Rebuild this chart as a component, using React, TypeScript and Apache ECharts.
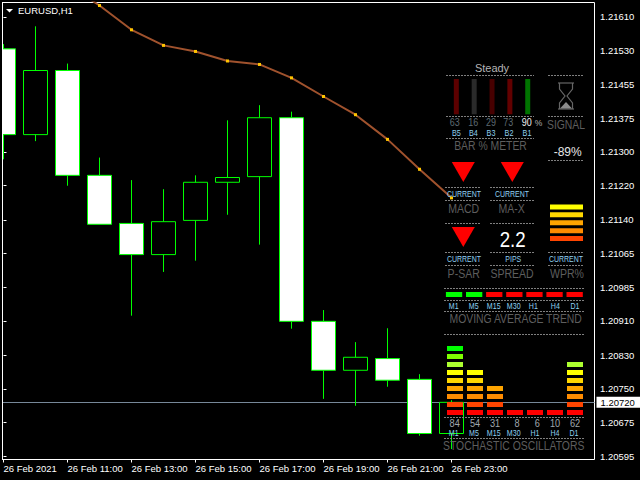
import React, { useEffect, useRef } from "react";
import * as echarts from "echarts";

// [hour index, open, close, low, high]
const candles = [
  [0, 1.21536, 1.21338, 1.21281, 1.21547],
  [1, 1.21338, 1.21486, 1.21323, 1.21588],
  [2, 1.21486, 1.21244, 1.2122, 1.21502],
  [3, 1.21244, 1.21131, 1.21131, 1.21285],
  [4, 1.21133, 1.21061, 1.2092, 1.21233],
  [5, 1.21061, 1.21137, 1.21021, 1.21212],
  [6, 1.2114, 1.21228, 1.21047, 1.21244],
  [7, 1.21228, 1.21239, 1.21153, 1.21371],
  [8, 1.21241, 1.21377, 1.21084, 1.21406],
  [9, 1.21377, 1.20907, 1.2089, 1.21391],
  [10, 1.20907, 1.20794, 1.20728, 1.20933],
  [11, 1.20794, 1.20824, 1.20712, 1.20859],
  [12, 1.20821, 1.20771, 1.20756, 1.20891],
  [13, 1.20773, 1.20648, 1.20643, 1.20785],
  [14, 1.20648, 1.2072, 1.20612, 1.20725],
];
const movingAverage = [
  [2, 1.21685], [3, 1.21636], [4, 1.2158], [5, 1.21544], [6, 1.2153], [7, 1.21508], [8, 1.215],
  [9, 1.21469], [10, 1.21426], [11, 1.21384], [12, 1.21327], [13, 1.21258], [14, 1.21192],
];
const bidPrice = 1.2072;
const priceTicks = [
  1.2161, 1.21532, 1.21454, 1.21376, 1.21298, 1.2122, 1.21141, 1.21063, 1.20985, 1.20908, 1.20829, 1.20751, 1.20673, 1.20595,
];
const timeTicks = [0, 2, 4, 6, 8, 10, 12, 14];
const timeLabels = [
  "26 Feb 2021", "26 Feb 11:00", "26 Feb 13:00", "26 Feb 15:00", "26 Feb 17:00", "26 Feb 19:00", "26 Feb 21:00", "26 Feb 23:00",
];
const meterNames = ["B5", "B4", "B3", "B2", "B1"];
const meterValues = [63, 16, 29, 73, 90];
const meterColors = ["#5c0000", "#2a2a2a", "#470000", "#620000", "#007400"];
const timeframes = ["M1", "M5", "M15", "M30", "H1", "H4", "D1"];
const maTrendColors = ["#00ff00", "#00ff00", "#ff0000", "#ff0000", "#ff0000", "#ff0000", "#ff0000"];
const stochValues = [84, 54, 31, 8, 6, 10, 62];
const stochCells = [9, 6, 4, 1, 1, 1, 7];
const stochColors = ["#ff0000", "#ff4500", "#ff8c00", "#ffa500", "#ffd700", "#ffff00", "#adff2f", "#7fff00", "#00ff00"];
const wprColors = ["#ffff00", "#ffd700", "#ffa500", "#ff8c00", "#ff4500"];

const FONT = '"Liberation Sans"';
const DIM = "#5e5e5e";
const BLUE = "#8fd0f0";
const DASH = "#7f7f7f";

function label(text: string, x: number, y: number, size: number, fill: string, sx = 1) {
  return {
    type: "text", x, y, scaleX: sx, z: 100,
    style: { text, fill, font: `${size}px ${FONT}`, textAlign: "center", textVerticalAlign: "middle", align: "center", verticalAlign: "middle" },
  };
}
function dash(x1: number, x2: number, y: number) {
  return {
    type: "line", z: 100,
    shape: { x1, y1: y, x2, y2: y },
    style: { stroke: DASH, lineWidth: 1, lineDash: [2, 1] },
  };
}
function triangle(cx: number, top: number) {
  return {
    type: "polygon", z: 100,
    shape: { points: [[cx - 11.5, top], [cx + 11.5, top], [cx, top + 20]] },
    style: { fill: "#ff0000" },
  };
}

function panelGraphics() {
  const rows1 = [187.5, 200.5, 223.5, 252.5, 265.5];
  const els: any[] = [];
  // the candlestick series is not clipped at the plot's left edge: mask the overhang and redraw the frame
  els.push({ type: "rect", z: 90, shape: { x: 0, y: 0, width: 2, height: 480 }, style: { fill: "#000" } });
  els.push({ type: "line", z: 90, shape: { x1: 2.5, y1: 2, x2: 2.5, y2: 460 }, style: { stroke: "#fff", lineWidth: 1 } });
  els.push(label("Steady", 492, 67.5, 11, "#b4b4b4"));
  els.push(dash(446, 534, 75.5), dash(548, 584, 75.5));
  els.push(dash(446, 534, 116.5), dash(548, 584, 116.5));
  const meterNumX = [454.7, 473.3, 491, 508.3, 526.7];
  const meterNameX = [456.3, 473.3, 491, 509, 527];
  meterValues.forEach((v, i) => {
    els.push(label(String(v), meterNumX[i], 122.5, 11.5, i === 4 ? "#f0f0f0" : "#5e6a72", 0.78));
    els.push(label(meterNames[i], meterNameX[i], 133, 8.5, BLUE, 0.85));
  });
  els.push(label("%", 538.5, 123, 8.5, "#b0b0b0"));
  els.push(dash(446, 534, 138.5));
  els.push(label("BAR % METER", 490.5, 145.5, 13.5, DIM, 0.77));
  const hg = { type: "polyline", z: 100, style: { stroke: "#666", lineWidth: 1.2, fill: "none" } };
  els.push({ ...hg, shape: { points: [[558, 83], [574, 83]] } });
  els.push({ ...hg, shape: { points: [[558, 109], [574, 109]] } });
  els.push({ ...hg, shape: { points: [[559.5, 83], [559.5, 89], [565, 96], [559.5, 103], [559.5, 109]] } });
  els.push({ ...hg, shape: { points: [[572.5, 83], [572.5, 89], [567, 96], [572.5, 103], [572.5, 109]] } });
  els.push({ type: "polygon", z: 100, shape: { points: [[560, 108.5], [572, 108.5], [566, 102]] }, style: { fill: "#8a8a8a" } });
  els.push(label("SIGNAL", 566, 124.7, 13.5, DIM, 0.77));
  els.push(label("-89%", 567.7, 152, 12, "#e6e6e6"));
  els.push(dash(548, 584, 160.5));
  els.push(triangle(463.3, 162), triangle(512.3, 162), triangle(463.3, 227));
  rows1.forEach((y) => els.push(dash(445, 481, y), dash(490, 534, y)));
  els.push(dash(548, 584, 252.5), dash(548, 584, 265.5));
  els.push(label("CURRENT", 464, 194, 8.5, BLUE, 0.82), label("CURRENT", 512, 194, 8.5, BLUE, 0.82));
  els.push(label("MACD", 463.7, 209, 13.5, DIM, 0.78), label("MA-X", 511.7, 209, 13.5, DIM, 0.78));
  els.push(label("2.2", 512.7, 239.5, 22, "#ffffff", 0.85));
  els.push(label("CURRENT", 464, 259, 8.5, BLUE, 0.82), label("PIPS", 513.3, 259, 8.5, BLUE, 0.82), label("CURRENT", 566, 259, 8.5, BLUE, 0.82));
  els.push(label("P-SAR", 463.7, 273.7, 13.5, DIM, 0.78), label("SPREAD", 512, 273.7, 13.5, DIM, 0.78), label("WPR%", 567, 273.7, 13.5, DIM, 0.78));
  els.push(dash(444, 584, 288.5), dash(444, 584, 300.5), dash(444, 584, 311.5));
  const tfX1 = [453.7, 473.7, 493.7, 513.7, 533.3, 555.3, 575];
  const tfX2 = [453.7, 474, 493.7, 513.7, 535, 555, 574];
  const stX = [454.7, 475, 495, 517, 537.3, 555, 575];
  timeframes.forEach((t, i) => {
    els.push(label(t, tfX1[i], 306, 8.5, BLUE, 0.83));
    els.push(label(t, tfX2[i], 433, 8.5, BLUE, 0.83));
    els.push(label(String(stochValues[i]), stX[i], 423, 11.5, "#a0a8ae", 0.8));
  });
  els.push(label("MOVING AVERAGE TREND", 515.7, 319, 13.5, DIM, 0.77));
  els.push(dash(444, 584, 334.5), dash(444, 584, 417.5), dash(444, 584, 438.5));
  els.push(label("STOCHASTIC OSCILLATORS", 513.7, 445.7, 13.5, DIM, 0.77));
  els.push({ type: "polygon", z: 100, shape: { points: [[6, 9], [13, 9], [9.5, 12.5]] }, style: { fill: "#fff" } });
  els.push({
    type: "text", x: 18, y: 10.5, z: 100,
    style: { text: "EURUSD,H1", fill: "#fff", font: `9.5px ${FONT}`, textAlign: "left", textVerticalAlign: "middle", align: "left", verticalAlign: "middle" },
  });
  return els;
}

export default function App() {
  const ref = useRef<HTMLDivElement>(null);
  useEffect(() => {
    const chart = echarts.init(ref.current!, null, { renderer: "svg" });
    const cellBase = { type: "scatter", symbol: "rect", z: 50, silent: true, clip: false };
    const hidden = { show: false };
    chart.setOption({
      animation: false,
      backgroundColor: "#000",
      graphic: { elements: panelGraphics() },
      grid: [
        { left: 2.5, top: 2.5, width: 592, height: 457, show: true, borderColor: "#fff", borderWidth: 1, backgroundColor: "#000" },
        { left: 445, top: 344.5, width: 140, height: 72 },
        { left: 444, top: 292, width: 140.7, height: 5 },
        { left: 550, top: 203, width: 33, height: 39.5 },
        { left: 447.4, top: 79, width: 89.25, height: 35.3 },
      ],
      xAxis: [
        {
          type: "value", gridIndex: 0, min: -0.03125, max: 18.46875,
          splitLine: { show: false },
          axisLine: { show: false },
          axisTick: { show: true, length: 3, lineStyle: { color: "#fff" }, customValues: timeTicks },
          axisLabel: {
            show: true, customValues: timeTicks, color: "#fff", fontFamily: "Liberation Sans", fontSize: 9.5, margin: 4,
            align: "left", hideOverlap: false,
            formatter: (v: number) => timeLabels[timeTicks.indexOf(v)] ?? "",
          },
        },
        { type: "category", gridIndex: 1, data: timeframes, ...hidden },
        { type: "category", gridIndex: 2, data: timeframes, ...hidden },
        { type: "value", gridIndex: 3, min: 0, max: 1, ...hidden },
        { type: "category", gridIndex: 4, data: meterNames, ...hidden },
      ],
      yAxis: [
        {
          type: "value", gridIndex: 0, position: "right", min: 1.20588, max: 1.21643, scale: true,
          splitLine: { show: false },
          axisLine: { show: false },
          axisTick: { show: true, length: 3, lineStyle: { color: "#fff" }, customValues: priceTicks },
          axisLabel: {
            show: true, customValues: priceTicks, color: "#fff", fontFamily: "Liberation Sans", fontSize: 9.5, margin: 5.5,
            formatter: (v: number) => (Math.round(v / 0.00005) * 0.00005).toFixed(5),
          },
        },
        { type: "value", gridIndex: 1, min: 0, max: 9, ...hidden },
        { type: "value", gridIndex: 2, min: 0, max: 1, ...hidden },
        { type: "category", gridIndex: 3, inverse: true, data: wprColors, ...hidden },
        { type: "value", gridIndex: 4, min: 0, max: 1, ...hidden },
      ],
      series: [
        {
          type: "line", xAxisIndex: 0, yAxisIndex: 0, data: [[0, bidPrice]], symbol: "none", silent: true, z: 1,
          markLine: {
            silent: true, symbol: "none", animation: false, precision: 5,
            lineStyle: { color: "#778899", width: 1, type: "solid" },
            data: [{ yAxis: bidPrice }],
            label: {
              position: "end", distance: 2, formatter: bidPrice.toFixed(5), color: "#000", backgroundColor: "#fff",
              fontFamily: "Liberation Sans", fontSize: 9.5, padding: [1, 8, 0, 4],
            },
          },
        },
        {
          type: "candlestick", xAxisIndex: 0, yAxisIndex: 0, z: 6, barWidth: 24, data: candles, silent: true,
          itemStyle: { color: "#000", color0: "#fff", borderColor: "#00ff00", borderColor0: "#00ff00", borderWidth: 1 },
        },
        {
          type: "line", xAxisIndex: 0, yAxisIndex: 0, z: 7, data: movingAverage, silent: true,
          symbol: "rect", symbolSize: 3, showSymbol: true, showAllSymbol: true,
          lineStyle: { color: "#a0522d", width: 2 },
          itemStyle: { color: "#ffc400", borderWidth: 0 },
        },
        {
          ...cellBase, xAxisIndex: 1, yAxisIndex: 1, symbolSize: [16, 5],
          itemStyle: { opacity: 1 },
          data: stochCells.flatMap((n, col) =>
            stochColors.slice(0, n).map((color, r) => ({ value: [col, r + 0.5], itemStyle: { color, opacity: 1 } }))
          ),
        },
        {
          ...cellBase, xAxisIndex: 2, yAxisIndex: 2, symbolSize: [16.3, 5],
          itemStyle: { opacity: 1 },
          data: maTrendColors.map((color, i) => ({ value: [i, 0.5], itemStyle: { color, opacity: 1 } })),
        },
        {
          ...cellBase, xAxisIndex: 3, yAxisIndex: 3, symbolSize: [33, 5],
          itemStyle: { opacity: 1 },
          data: wprColors.map((color, i) => ({ value: [0.5, i], itemStyle: { color, opacity: 1 } })),
        },
        {
          type: "bar", xAxisIndex: 4, yAxisIndex: 4, z: 50, barWidth: 5, silent: true,
          data: meterColors.map((color) => ({ value: 1, itemStyle: { color } })),
        },
      ],
    });
    return () => chart.dispose();
  }, []);
  return <div ref={ref} style={{ position: "fixed", left: 0, top: 0, width: 640, height: 480, background: "#000" }} />;
}
